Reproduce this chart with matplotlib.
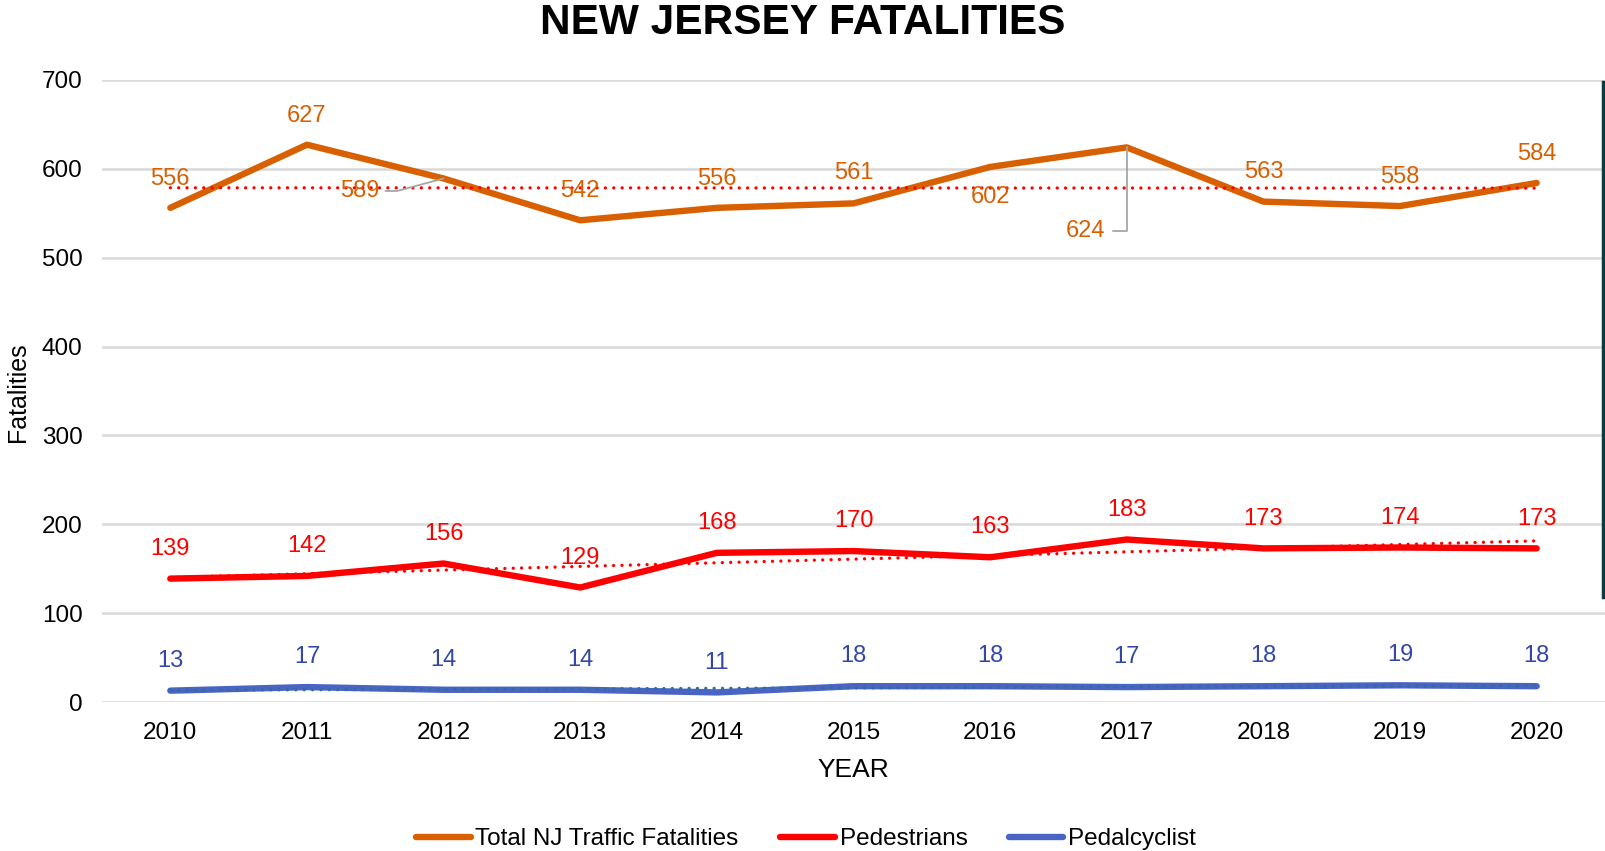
"""New Jersey fatalities 2010-2020: totaal, voetgangers en fietsers met lineaire trendlijnen."""
import matplotlib.pyplot as plt
import numpy as np
from matplotlib.lines import Line2D

plt.rcParams["font.family"] = ["Liberation Sans", "DejaVu Sans"]

years = [2010, 2011, 2012, 2013, 2014, 2015, 2016, 2017, 2018, 2019, 2020]
total = [556, 627, 589, 542, 556, 561, 602, 624, 563, 558, 584]
pedestrians = [139, 142, 156, 129, 168, 170, 163, 183, 173, 174, 173]
pedalcyclist = [13, 17, 14, 14, 11, 18, 18, 17, 18, 19, 18]

# Labelposities (offset in points) van het totaal; Excel plaatst sommige anders.
total_offsets = [(0, 21), (0, 21), (-60, -9), (0, 21), (0, 21), (0, 22),
                 (0, -22), (-30, -60), (0, 21), (0, 21), (0, 21)]

ORANGE = "#D86000"
RED = "#FF0000"
BLUE = "#4A64C4"
BLUE_TXT = "#3348A6"
TREND_BLUE = "#2F6E9E"
GRID = "#D9D9D9"
LEADER = "#A6A6A6"
FS = 17.5   # tekstgrootte assen / legenda
FS_LBL = 17  # datalabels

fig = plt.figure(figsize=(16.05, 8.51), dpi=100)
ax = fig.add_axes([102 / 1605, 1 - 702.2 / 851, 1 - 102 / 1605, (702.2 - 79.8) / 851])

x = np.array(years)
series = [
    (total, ORANGE, ORANGE, RED, "Total NJ Traffic Fatalities"),
    (pedestrians, RED, RED, RED, "Pedestrians"),
    (pedalcyclist, BLUE, BLUE_TXT, TREND_BLUE, "Pedalcyclist"),
]

for values, color, txt_color, trend_color, label in series:
    y = np.array(values)
    ax.plot(x, y, color=color, lw=4.6, solid_capstyle="round",
            solid_joinstyle="round", label=label, zorder=3)
    # Lineaire trendlijn (zoals de Excel-trendline).
    slope, icpt = np.polyfit(x, y, 1)
    ax.plot(x, slope * x + icpt, color=trend_color, lw=2.4,
            linestyle=(0, (0.01, 2.5)), dash_capstyle="round", zorder=4)

# Datalabels.
for i, v in enumerate(total):
    dx, dy = total_offsets[i]
    if i in (2, 7):
        continue
    ax.annotate(str(v), (years[i], v), xytext=(dx, dy), textcoords="offset points",
                ha="center", va="center", fontsize=FS_LBL, color=ORANGE, zorder=5)

# Labels met verbindingslijn.
ax.annotate(str(total[2]), (years[2], total[2]), xytext=total_offsets[2],
            textcoords="offset points", ha="center", va="center", fontsize=FS_LBL,
            color=ORANGE, zorder=5,
            arrowprops=dict(arrowstyle="-", color=LEADER, lw=1.3, shrinkA=2, shrinkB=0,
                            connectionstyle="angle,angleA=0,angleB=15,rad=0"))
ax.annotate(str(total[7]), (years[7], total[7]), xytext=total_offsets[7],
            textcoords="offset points", ha="center", va="center", fontsize=FS_LBL,
            color=ORANGE, zorder=5,
            arrowprops=dict(arrowstyle="-", color=LEADER, lw=1.3, shrinkA=4, shrinkB=0,
                            connectionstyle="angle,angleA=0,angleB=90,rad=0"))

for i, v in enumerate(pedestrians):
    ax.annotate(str(v), (years[i], v), xytext=(0, 21.5), textcoords="offset points",
                ha="center", va="center", fontsize=FS_LBL, color=RED, zorder=5)
for i, v in enumerate(pedalcyclist):
    ax.annotate(str(v), (years[i], v), xytext=(0, 21.5), textcoords="offset points",
                ha="center", va="center", fontsize=FS_LBL, color=BLUE_TXT, zorder=5)

ax.set_xlim(2009.5, 2020.5)
ax.set_ylim(0, 700)
ax.set_xticks(years)
ax.set_yticks(range(0, 701, 100))
ax.tick_params(axis="both", length=0, labelsize=FS)
ax.tick_params(axis="y", pad=14)
ax.tick_params(axis="x", pad=14.5)
ax.grid(axis="y", color=GRID, lw=1.8, zorder=0)
ax.set_axisbelow(True)
for s in ax.spines.values():
    s.set_visible(False)

ax.set_xlabel("YEAR", fontsize=19, labelpad=10)
fig.text(18.5 / 1605, 1 - 392 / 851, "Fatalities", rotation=90, fontsize=18,
         ha="center", va="center")
fig.text(0.5, 1 - 23 / 851, "NEW JERSEY FATALITIES", fontsize=30.5, fontweight="bold",
         ha="center", va="center")

handles = [Line2D([], [], color=c, lw=4.6, solid_capstyle="round") for _, c, _, _, _ in series]
fig.legend(handles, [s[4] for s in series], loc="center", bbox_to_anchor=(806 / 1605, 1 - 839 / 851),
           ncol=3, frameon=False, fontsize=FS, handlelength=2.25, handletextpad=0.2,
           columnspacing=1.7)

# Donkere rand rechts in het origineel.
fig.add_artist(Line2D([1602.5 / 1605] * 2, [1 - 82 / 851, 1 - 597 / 851],
                      color="#0B3C44", lw=2.5))

fig.savefig("out.png", dpi=100)
